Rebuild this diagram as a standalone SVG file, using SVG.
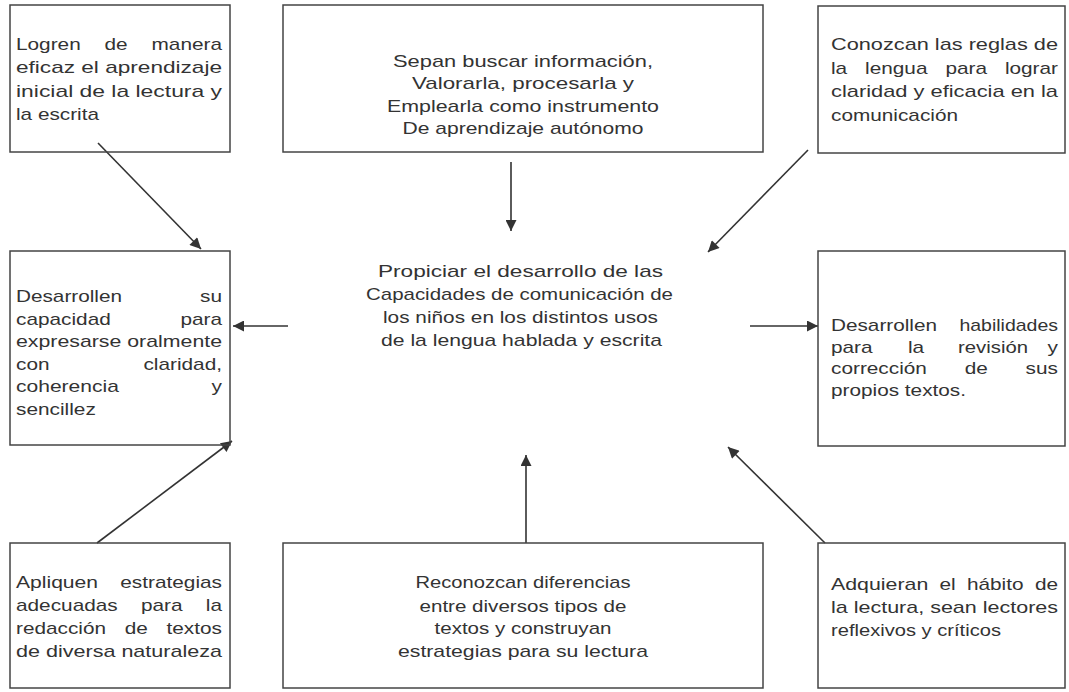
<svg xmlns="http://www.w3.org/2000/svg" width="1069" height="692" viewBox="0 0 1069 692">
<style>
.box{fill:none;stroke:#444;stroke-width:1.5}
text{font-family:"Liberation Sans",Arial,sans-serif;font-size:17px;fill:#333}
.c{stroke:#333;stroke-width:1.6;fill:none;marker-end:url(#ah)}
</style>
<defs>
<marker id="ah" viewBox="0 0 10 10" refX="10" refY="5" markerWidth="15" markerHeight="11" markerUnits="userSpaceOnUse" orient="auto"><path d="M0,0 L10,5 L0,10 z" fill="#333"/></marker>
</defs>
<rect width="1069" height="692" fill="#fff"/>
<g id="connectors">
<path class="c" d="M98,143 L201,249"/>
<path class="c" d="M511,162 L511,231"/>
<path class="c" d="M808,150 L708,252"/>
<path class="c" d="M288,326 L233,326"/>
<path class="c" d="M750,326 L818,326"/>
<path class="c" d="M97,543 L232,441"/>
<path class="c" d="M526,543 L526,455"/>
<path class="c" d="M825,543 L728,447"/>
</g>
<g id="tl">
<rect class="box" x="10" y="5" width="220" height="147"/>
<text x="16" y="50" textLength="64.7" lengthAdjust="spacingAndGlyphs">Logren</text>
<text x="104.5" y="50" textLength="23.1" lengthAdjust="spacingAndGlyphs">de</text>
<text x="151.5" y="50" textLength="70.5" lengthAdjust="spacingAndGlyphs">manera</text>
<text x="16" y="73" textLength="206" lengthAdjust="spacingAndGlyphs">eficaz el aprendizaje</text>
<text x="16" y="97" textLength="206" lengthAdjust="spacingAndGlyphs">inicial de la lectura y</text>
<text x="16" y="120" textLength="83" lengthAdjust="spacingAndGlyphs">la escrita</text>
</g>
<g id="tc">
<rect class="box" x="283" y="5" width="480" height="147"/>
<text x="393" y="67" textLength="260" lengthAdjust="spacingAndGlyphs">Sepan buscar información,</text>
<text x="412" y="89" textLength="222" lengthAdjust="spacingAndGlyphs">Valorarla, procesarla y</text>
<text x="387" y="112" textLength="272" lengthAdjust="spacingAndGlyphs">Emplearla como instrumento</text>
<text x="402.5" y="134" textLength="241" lengthAdjust="spacingAndGlyphs">De aprendizaje autónomo</text>
</g>
<g id="tr">
<rect class="box" x="818" y="6" width="247" height="147"/>
<text x="831" y="50" textLength="227" lengthAdjust="spacingAndGlyphs">Conozcan las reglas de</text>
<text x="831" y="74" textLength="16.2" lengthAdjust="spacingAndGlyphs">la</text>
<text x="865.1" y="74" textLength="62.4" lengthAdjust="spacingAndGlyphs">lengua</text>
<text x="945.4" y="74" textLength="41.6" lengthAdjust="spacingAndGlyphs">para</text>
<text x="1004.9" y="74" textLength="53.1" lengthAdjust="spacingAndGlyphs">lograr</text>
<text x="831" y="97" textLength="227" lengthAdjust="spacingAndGlyphs">claridad y eficacia en la</text>
<text x="831" y="121" textLength="127" lengthAdjust="spacingAndGlyphs">comunicación</text>
</g>
<g id="center">
<text x="378" y="277" textLength="285" lengthAdjust="spacingAndGlyphs">Propiciar el desarrollo de  las</text>
<text x="366" y="300" textLength="307" lengthAdjust="spacingAndGlyphs">Capacidades de comunicación de</text>
<text x="383" y="323" textLength="275" lengthAdjust="spacingAndGlyphs">los niños en los distintos usos</text>
<text x="381" y="346" textLength="281" lengthAdjust="spacingAndGlyphs">de la lengua hablada y escrita</text>
</g>
<g id="ml">
<rect class="box" x="10" y="251" width="220" height="194"/>
<text x="16" y="302" textLength="106" lengthAdjust="spacingAndGlyphs">Desarrollen</text>
<text x="200" y="302" textLength="22" lengthAdjust="spacingAndGlyphs">su</text>
<text x="16" y="325" textLength="94.8" lengthAdjust="spacingAndGlyphs">capacidad</text>
<text x="180.4" y="325" textLength="41.6" lengthAdjust="spacingAndGlyphs">para</text>
<text x="16" y="347" textLength="206" lengthAdjust="spacingAndGlyphs">expresarse oralmente</text>
<text x="16" y="370" textLength="33.5" lengthAdjust="spacingAndGlyphs">con</text>
<text x="143.4" y="370" textLength="78.6" lengthAdjust="spacingAndGlyphs">claridad,</text>
<text x="16" y="392" textLength="102.9" lengthAdjust="spacingAndGlyphs">coherencia</text>
<text x="211.6" y="392" textLength="10.4" lengthAdjust="spacingAndGlyphs">y</text>
<text x="16" y="415" textLength="79.8" lengthAdjust="spacingAndGlyphs">sencillez</text>
</g>
<g id="mr">
<rect class="box" x="818" y="251" width="247" height="195"/>
<text x="831" y="331" textLength="106" lengthAdjust="spacingAndGlyphs">Desarrollen</text>
<text x="959.4" y="331" textLength="98.6" lengthAdjust="spacingAndGlyphs">habilidades</text>
<text x="831" y="353" textLength="41.6" lengthAdjust="spacingAndGlyphs">para</text>
<text x="908" y="353" textLength="16.2" lengthAdjust="spacingAndGlyphs">la</text>
<text x="958" y="353" textLength="70" lengthAdjust="spacingAndGlyphs">revisión</text>
<text x="1047.6" y="353" textLength="10.4" lengthAdjust="spacingAndGlyphs">y</text>
<text x="831" y="374" textLength="95.9" lengthAdjust="spacingAndGlyphs">corrección</text>
<text x="964.7" y="374" textLength="23.1" lengthAdjust="spacingAndGlyphs">de</text>
<text x="1025.6" y="374" textLength="32.4" lengthAdjust="spacingAndGlyphs">sus</text>
<text x="831" y="396" textLength="135" lengthAdjust="spacingAndGlyphs">propios textos.</text>
</g>
<g id="bl">
<rect class="box" x="10" y="543" width="220" height="145"/>
<text x="16" y="588" textLength="82" lengthAdjust="spacingAndGlyphs">Apliquen</text>
<text x="120.3" y="588" textLength="101.7" lengthAdjust="spacingAndGlyphs">estrategias</text>
<text x="16" y="611" textLength="101.7" lengthAdjust="spacingAndGlyphs">adecuadas</text>
<text x="141" y="611" textLength="41.6" lengthAdjust="spacingAndGlyphs">para</text>
<text x="205.8" y="611" textLength="16.2" lengthAdjust="spacingAndGlyphs">la</text>
<text x="16" y="634" textLength="90" lengthAdjust="spacingAndGlyphs">redacción</text>
<text x="124.7" y="634" textLength="23.1" lengthAdjust="spacingAndGlyphs">de</text>
<text x="166.5" y="634" textLength="55.5" lengthAdjust="spacingAndGlyphs">textos</text>
<text x="16" y="657" textLength="206" lengthAdjust="spacingAndGlyphs">de diversa naturaleza</text>
</g>
<g id="bc">
<rect class="box" x="283" y="543" width="480" height="145"/>
<text x="415.5" y="588" textLength="215" lengthAdjust="spacingAndGlyphs">Reconozcan diferencias</text>
<text x="419.5" y="611.5" textLength="207" lengthAdjust="spacingAndGlyphs">entre diversos tipos de</text>
<text x="434.5" y="633.5" textLength="177" lengthAdjust="spacingAndGlyphs">textos y construyan</text>
<text x="398" y="656.5" textLength="250" lengthAdjust="spacingAndGlyphs">estrategias para su lectura</text>
</g>
<g id="br">
<rect class="box" x="818" y="543" width="247" height="145"/>
<text x="831" y="590" textLength="97.3" lengthAdjust="spacingAndGlyphs">Adquieran</text>
<text x="939.5" y="590" textLength="16.2" lengthAdjust="spacingAndGlyphs">el</text>
<text x="966.9" y="590" textLength="56.7" lengthAdjust="spacingAndGlyphs">hábito</text>
<text x="1034.9" y="590" textLength="23.1" lengthAdjust="spacingAndGlyphs">de</text>
<text x="831" y="613" textLength="227" lengthAdjust="spacingAndGlyphs">la lectura,  sean lectores</text>
<text x="831" y="636" textLength="170" lengthAdjust="spacingAndGlyphs">reflexivos y críticos</text>
</g>
</svg>
